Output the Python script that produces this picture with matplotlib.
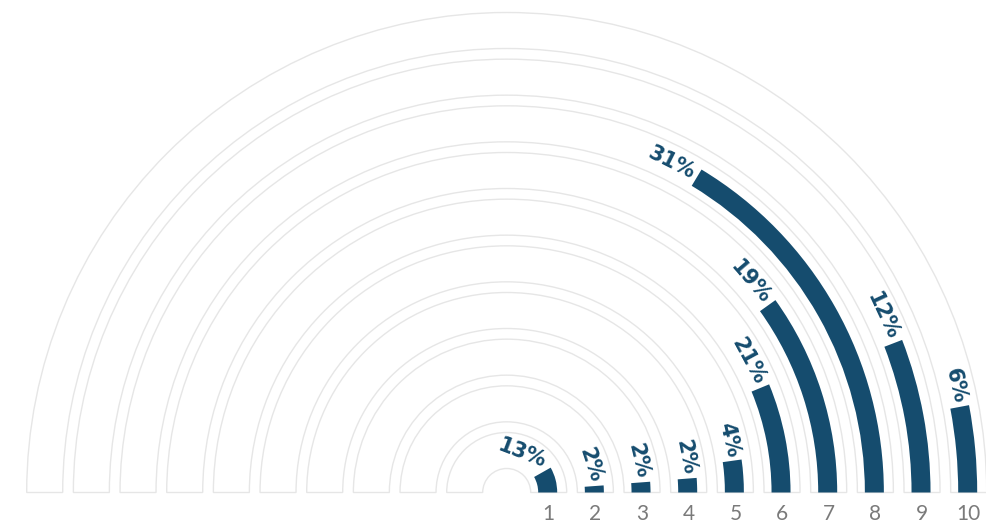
import numpy as np
import matplotlib.pyplot as plt
from matplotlib.patches import Wedge

# data
rings = ["1", "2", "3", "4", "5", "6", "7", "8", "9", "10"]
shares = [13, 2, 2, 2, 4, 21, 19, 31, 12, 6]
# sweep of each bar in degrees, as drawn in the picture
sweep_deg = [29.5, 4.2, 4.3, 4.4, 8.0, 22.4, 35.6, 58.9, 21.1, 10.7]

BAR = "#154c6e"
TRACK = "#e6e6e6"
W, H = 986, 526
cx, cy = 506.7, 492.5

fig = plt.figure(figsize=(W / 100, H / 100), dpi=100)
ax = fig.add_axes([0, 0, 1, 1])
ax.set_xlim(-cx, W - cx)
ax.set_ylim(-(H - cy), cy)
ax.set_aspect("equal")
ax.axis("off")

step = (480 - 60) / 9
track_w = 36
bar_w = 19
renderer = fig.canvas.get_renderer()

for i, (name, share, sweep) in enumerate(zip(rings, shares, sweep_deg)):
    r_out = 60 + step * i
    r_mid = r_out - track_w / 2
    ax.add_patch(Wedge((0, 0), r_out, 0, 180, width=track_w,
                       facecolor="white", edgecolor=TRACK, lw=1.0))
    ax.add_patch(Wedge((0, 0), r_mid - 1 + bar_w / 2, 0, sweep, width=bar_w,
                       facecolor=BAR, edgecolor="none"))

    # percentage label, following the ring just past the end of the bar
    t = ax.text(0, 0, f"{share}%", fontsize=15, fontweight="bold",
                color=BAR, ha="center", va="center")
    L = t.get_window_extent(renderer).width
    ang = sweep + np.degrees((4 + L / 2) / r_mid)
    a = np.radians(ang)
    t.set_position((r_mid * np.cos(a), r_mid * np.sin(a)))
    t.set_rotation(ang - 90)
    t.set_rotation_mode("anchor")

    ax.text(r_mid, -22, name, fontsize=15, family="Lato", fontweight="normal",
            color="#7a7a7a", ha="center", va="center")

fig.savefig("out.png", dpi=100)
